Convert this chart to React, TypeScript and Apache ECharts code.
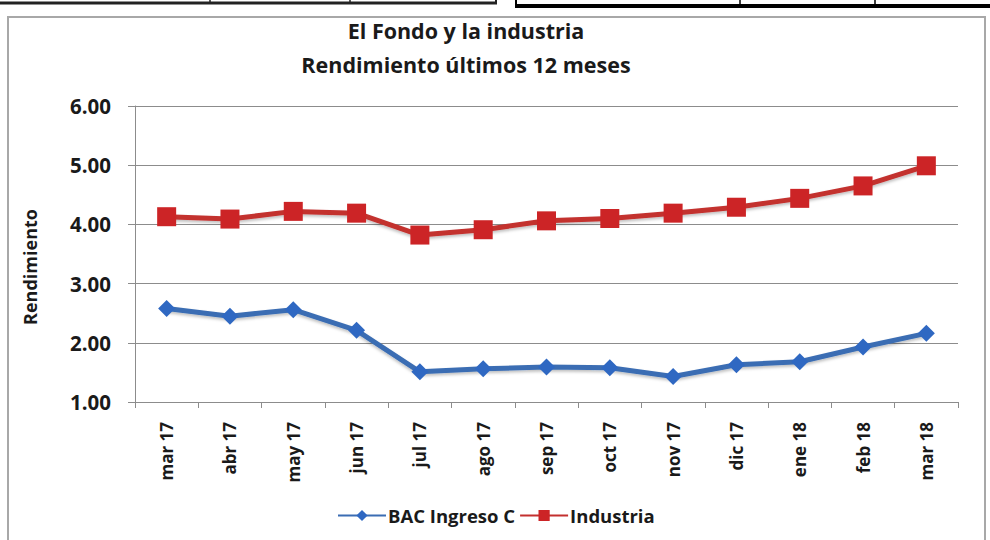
import React, { useEffect, useRef } from "react";
import * as echarts from "echarts";

const categories = ["mar 17", "abr 17", "may 17", "jun 17", "jul 17", "ago 17", "sep 17", "oct 17", "nov 17", "dic 17", "ene 18", "feb 18", "mar 18"];
const bacIngreso = [2.58, 2.45, 2.56, 2.21, 1.51, 1.56, 1.59, 1.58, 1.43, 1.63, 1.68, 1.93, 2.16];
const industria = [4.13, 4.09, 4.22, 4.19, 3.82, 3.91, 4.06, 4.10, 4.19, 4.29, 4.44, 4.65, 4.99];
const yTicks = { min: 1, max: 6, interval: 1 };

const FONT = "'Open Sans', 'DejaVu Sans', sans-serif";

export default function App() {
  const ref = useRef<HTMLDivElement>(null);
  useEffect(() => {
    document.body.style.margin = "0";
    const chart = echarts.init(ref.current!, null, { renderer: "svg" });
    const lineCol = "#222";
    chart.setOption({
      animation: false,
      backgroundColor: "#ffffff",
      textStyle: { fontFamily: FONT },
      title: {
        text: "El Fondo y la industria\nRendimiento últimos 12 meses",
        left: 461,
        top: 8,
        textAlign: "center",
        textStyle: { fontFamily: FONT, fontWeight: "bold", fontSize: 21.5, color: "#1a1a1a", lineHeight: 34 },
      },
      graphic: [
        { type: "rect", shape: { x: 8, y: 17, width: 977, height: 540 }, style: { fill: "none", stroke: "#a8a8a8", lineWidth: 2 }, silent: true },
        { type: "line", shape: { x1: 0, y1: 3, x2: 497, y2: 3 }, style: { stroke: lineCol, lineWidth: 3 } },
        { type: "line", shape: { x1: 210, y1: 0, x2: 210, y2: 3 }, style: { stroke: lineCol, lineWidth: 1.5 } },
        { type: "line", shape: { x1: 350, y1: 0, x2: 350, y2: 3 }, style: { stroke: lineCol, lineWidth: 1.5 } },
        { type: "line", shape: { x1: 496, y1: 0, x2: 496, y2: 4 }, style: { stroke: lineCol, lineWidth: 2 } },
        { type: "line", shape: { x1: 515, y1: 6, x2: 990, y2: 6 }, style: { stroke: "#000", lineWidth: 4 } },
        { type: "line", shape: { x1: 516, y1: 0, x2: 516, y2: 6 }, style: { stroke: "#000", lineWidth: 2 } },
        { type: "line", shape: { x1: 740, y1: 0, x2: 740, y2: 6 }, style: { stroke: "#000", lineWidth: 1.5 } },
        { type: "line", shape: { x1: 875, y1: 0, x2: 875, y2: 6 }, style: { stroke: "#000", lineWidth: 1.5 } },
      ],
      legend: {
        top: 501,
        left: 332,
        itemWidth: 48,
        itemHeight: 14,
        itemGap: 4,
        textStyle: { fontFamily: FONT, fontWeight: "bold", fontSize: 18.5, color: "#1a1a1a", padding: [0, 0, 0, -3] },
        data: ["BAC Ingreso C", "Industria"],
      },
      grid: { left: 135, right: 32, top: 106, bottom: 138 },
      xAxis: {
        type: "category",
        data: categories,
        boundaryGap: true,
        axisLine: { lineStyle: { color: "#8c8c8c", width: 1 } },
        axisTick: { show: true, length: 6, lineStyle: { color: "#8c8c8c" } },
        axisLabel: { rotate: 90, fontFamily: FONT, fontWeight: "bold", fontSize: 17, color: "#1a1a1a", margin: 20 },
      },
      yAxis: {
        type: "value",
        min: yTicks.min,
        max: yTicks.max,
        interval: yTicks.interval,
        name: "Rendimiento",
        nameLocation: "middle",
        nameGap: 96,
        nameTextStyle: { fontFamily: FONT, fontWeight: "bold", fontSize: 18, color: "#1a1a1a", padding: [0, 26, 0, 0] },
        axisLine: { show: true, lineStyle: { color: "#8c8c8c", width: 1 } },
        axisTick: { show: true, length: 7, lineStyle: { color: "#8c8c8c" } },
        splitLine: { lineStyle: { color: "#8c8c8c", width: 1 } },
        axisLabel: { formatter: (v: number) => v.toFixed(2), fontFamily: FONT, fontWeight: "bold", fontSize: 20.5, color: "#1a1a1a", margin: 24 },
      },
      series: [
        {
          name: "BAC Ingreso C",
          type: "line",
          data: bacIngreso,
          symbol: "diamond",
          symbolSize: 17,
          lineStyle: { color: "#3b6db3", width: 5, shadowColor: "rgba(0,0,0,0.25)", shadowBlur: 3, shadowOffsetY: 2 },
          itemStyle: { color: "#2f68c2" },
        },
        {
          name: "Industria",
          type: "line",
          data: industria,
          symbol: "rect",
          symbolSize: 19,
          lineStyle: { color: "#c3302f", width: 5, shadowColor: "rgba(0,0,0,0.25)", shadowBlur: 3, shadowOffsetY: 2 },
          itemStyle: { color: "#cc2426" },
        },
      ],
    });
    return () => chart.dispose();
  }, []);
  return <div ref={ref} style={{ width: 990, height: 540 }} />;
}
